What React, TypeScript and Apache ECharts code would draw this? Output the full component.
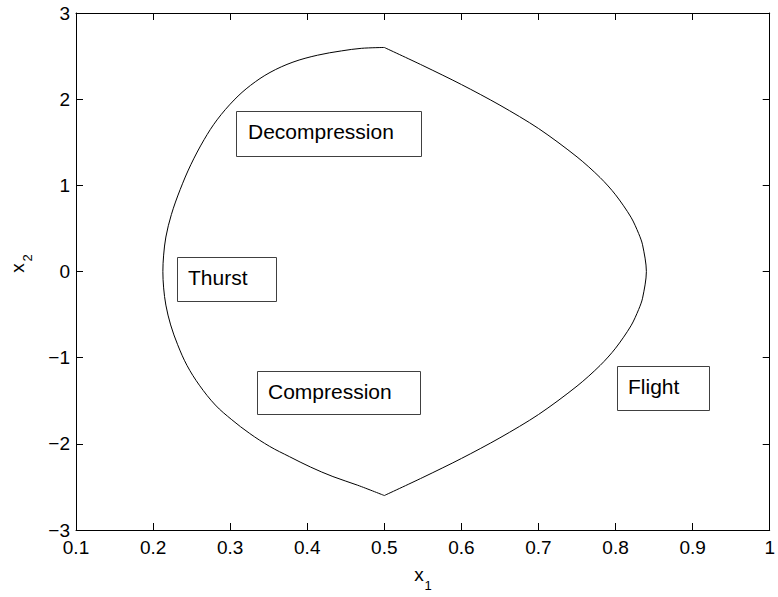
import React, { useEffect, useRef } from "react";
import * as echarts from "echarts";

// x-axis ticks (x1) and y-axis ticks (x2)
const xTicks = { min: 0.1, max: 1, interval: 0.1 };
const yTicks = { min: -3, max: 3, interval: 1 };

// Right side of the cycle (flight): from top cusp through rightmost point to bottom cusp
const flightX = [0.5, 0.55, 0.6, 0.65, 0.7, 0.75, 0.78, 0.8, 0.82, 0.83, 0.835, 0.84, 0.835, 0.83, 0.82, 0.8, 0.78, 0.75, 0.7, 0.65, 0.6, 0.55, 0.5];
const flightY = [2.6, 2.39, 2.17, 1.93, 1.66, 1.33, 1.09, 0.89, 0.63, 0.44, 0.31, 0, -0.31, -0.44, -0.63, -0.89, -1.09, -1.33, -1.66, -1.93, -2.17, -2.39, -2.6];

// Left side of the cycle (stance): from bottom cusp through leftmost point to top cusp
const stanceX = [0.5, 0.4653, 0.4333, 0.4044, 0.3772, 0.3513, 0.3254, 0.3021, 0.2808, 0.2601, 0.244, 0.2319, 0.2228, 0.2166, 0.2137, 0.2127, 0.2137, 0.2166, 0.2237, 0.2351, 0.249, 0.2662, 0.283, 0.3051, 0.3264, 0.3517, 0.3815, 0.4132, 0.4443, 0.4702, 0.5];
const stanceY = [-2.6, -2.48, -2.38, -2.27, -2.15, -2.03, -1.88, -1.72, -1.55, -1.32, -1.09, -0.85, -0.62, -0.39, -0.19, 0, 0.19, 0.4, 0.66, 0.95, 1.24, 1.53, 1.76, 1.99, 2.16, 2.31, 2.43, 2.51, 2.56, 2.59, 2.6];

// Region labels
const labels = ["Decompression", "Thurst", "Compression", "Flight"];

const FONT = "'Liberation Sans', Arial, Helvetica, sans-serif";

export default function App() {
  const ref = useRef<HTMLDivElement>(null);
  useEffect(() => {
    document.body.style.margin = "0";
    const chart = echarts.init(ref.current!, null, { renderer: "svg" });
    const pairs = (xs: number[], ys: number[]) => xs.map((x, i) => [x, ys[i]]);
    const boxes = [
      { x: 236, y: 111, w: 185, h: 45, tx: 248, ty: 131 },
      { x: 177, y: 257, w: 99, h: 44, tx: 188, ty: 277 },
      { x: 257, y: 371, w: 163, h: 43, tx: 268, ty: 391 },
      { x: 617, y: 366, w: 92, h: 44, tx: 628, ty: 386 },
    ];
    const graphics: any[] = [];
    boxes.forEach((b, i) => {
      graphics.push({
        type: "rect",
        shape: { x: b.x + 0.5, y: b.y + 0.5, width: b.w, height: b.h },
        style: { fill: "#fff", stroke: "#404040", lineWidth: 1 },
        z: 10,
      });
      graphics.push({
        type: "text",
        x: b.tx,
        y: b.ty,
        style: { text: labels[i], fontSize: 21, fontFamily: FONT, fill: "#000", verticalAlign: "middle", align: "left" },
        z: 11,
      });
    });
    // axis names with subscripts
    graphics.push({ type: "text", x: 419, y: 574, style: { text: "x", fontSize: 19, fontFamily: FONT, fill: "#000", align: "center", verticalAlign: "middle" } });
    graphics.push({ type: "text", x: 428, y: 585, style: { text: "1", fontSize: 13, fontFamily: FONT, fill: "#000", align: "center", verticalAlign: "middle" } });
    graphics.push({ type: "text", x: 17, y: 268, rotation: Math.PI / 2, style: { text: "x", fontSize: 19, fontFamily: FONT, fill: "#000", align: "center", verticalAlign: "middle" } });
    graphics.push({ type: "text", x: 27, y: 258, rotation: Math.PI / 2, style: { text: "2", fontSize: 13, fontFamily: FONT, fill: "#000", align: "center", verticalAlign: "middle" } });

    const axisCommon = {
      type: "value" as const,
      axisLine: { show: true, onZero: false, lineStyle: { color: "#000", width: 1 } },
      axisTick: { show: true, inside: true, length: 7, lineStyle: { color: "#000" } },
      splitLine: { show: false },
    };
    const fmtX = (v: number) => String(Number(v.toFixed(1)));
    const fmtY = (v: number) => (v < 0 ? "\u2212" + Math.abs(v) : String(v));

    chart.setOption({
      animation: false,
      backgroundColor: "#fff",
      grid: { left: 76, top: 13, width: 695, height: 517, containLabel: false },
      xAxis: [
        { ...axisCommon, position: "bottom", ...xTicks, axisLabel: { color: "#000", fontSize: 19, fontFamily: FONT, margin: 8, formatter: fmtX, showMinLabel: true, showMaxLabel: true } },
        { ...axisCommon, position: "top", ...xTicks, axisLabel: { show: false } },
      ],
      yAxis: [
        { ...axisCommon, position: "left", ...yTicks, axisLabel: { color: "#000", fontSize: 19, fontFamily: FONT, margin: 6, formatter: fmtY } },
        { ...axisCommon, position: "right", ...yTicks, axisLabel: { show: false } },
      ],
      series: [
        { type: "line", data: pairs(flightX, flightY), smooth: 0.3, showSymbol: false, symbol: "none", lineStyle: { color: "#000", width: 1 }, silent: true },
        { type: "line", data: pairs(stanceX, stanceY), smooth: 0.35, showSymbol: false, symbol: "none", lineStyle: { color: "#000", width: 1 }, silent: true },
      ],
      graphic: graphics,
    });
    return () => chart.dispose();
  }, []);
  return <div ref={ref} style={{ position: "fixed", left: 0, top: 0, width: 778, height: 597 }} />;
}
